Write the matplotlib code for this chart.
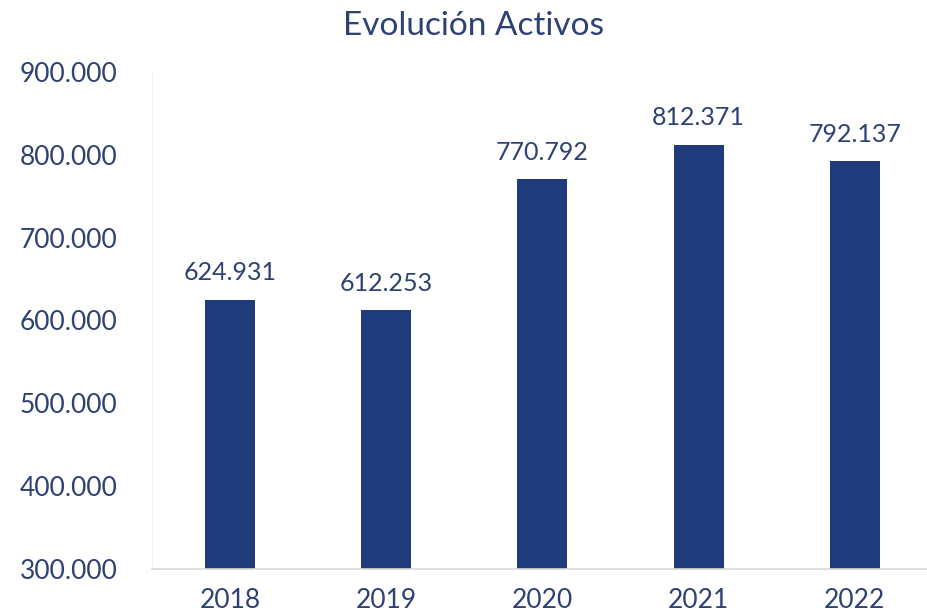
import numpy as np
import matplotlib.pyplot as plt

plt.rcParams['font.family'] = ['Lato', 'DejaVu Sans']

# datos
years = ['2018', '2019', '2020', '2021', '2022']
activos = [624931, 612253, 770792, 812371, 792137]
yticks = [300000, 400000, 500000, 600000, 700000, 800000, 900000]

bar_color = '#1f3b7b'
text_color = '#2d4172'


def fmt(v):
    # separador de miles con punto
    return f'{v:,.0f}'.replace(',', '.')


fig = plt.figure(figsize=(9.28, 6.15), dpi=100)
ax = fig.add_axes([0.164, 0.075, 0.836, 0.808])

x = np.arange(len(years))
bars = ax.bar(x, activos, width=0.32, color=bar_color, zorder=2)

for xi, v in zip(x, activos):
    ax.annotate(fmt(v), (xi, v), xytext=(0, 11), textcoords='offset points',
                ha='center', va='bottom', fontsize=18, color=text_color)

ax.set_ylim(300000, 900000)
ax.set_xlim(-0.5, 4.47)
ax.set_yticks(yticks)
ax.set_yticklabels([fmt(t) for t in yticks])
ax.set_xticks(x)
ax.set_xticklabels(years)
ax.tick_params(axis='both', length=0, colors=text_color)
ax.tick_params(axis='y', pad=25, labelsize=19)
ax.tick_params(axis='x', pad=14, labelsize=19)

for s in ['top', 'right']:
    ax.spines[s].set_visible(False)
ax.spines['left'].set_color('#f0f0f0')
ax.spines['bottom'].set_color('#d9d9d9')
ax.spines['bottom'].set_linewidth(1.2)

fig.text(0.51, 0.957, 'Evolución Activos', ha='center', va='center',
         fontsize=24, color=text_color)

fig.savefig('out.png', dpi=100)
